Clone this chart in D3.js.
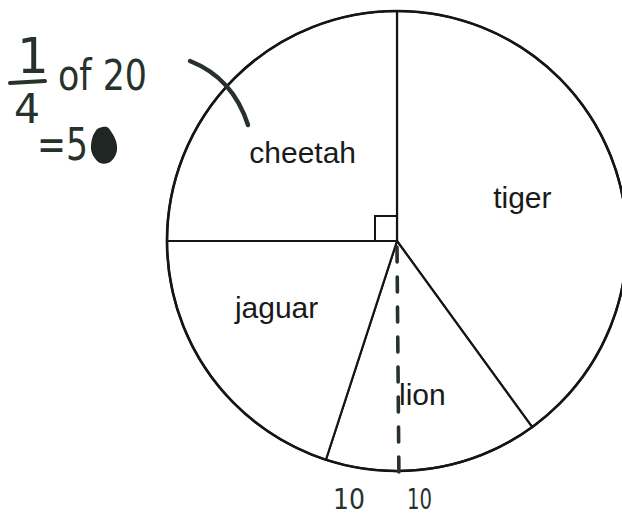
<!DOCTYPE html>
<html>
<head>
<meta charset="utf-8">
<script src="https://cdn.jsdelivr.net/npm/d3@7/dist/d3.min.js"></script>
<style>
  html, body { margin: 0; padding: 0; background: #ffffff; }
  svg { display: block; }
</style>
</head>
<body>
<script>
// Animals chosen by 20 pupils
const categories = ["tiger", "lion", "jaguar", "cheetah"];
const counts = [8, 3, 4, 5];
const total = 20;
const scaleMarks = ["10", "10"];

const width = 622, height = 517;
const cx = 397, cy = 241, R = 230;

const svg = d3.select("body").append("svg")
  .attr("width", width).attr("height", height);

const ink = "#151515";
const pen = "#27322d";

const data = categories.map((c, i) => ({ name: c, value: counts[i] }));

const pie = d3.pie().value(d => d.value).sort(null);
const arcs = pie(data);

const arc = d3.arc().innerRadius(0).outerRadius(R);
const labelArc = d3.arc().innerRadius(R * 0.58).outerRadius(R * 0.58);

const g = svg.append("g").attr("transform", `translate(${cx},${cy})`);

// slices
g.selectAll("path.slice")
  .data(arcs)
  .join("path")
  .attr("class", "slice")
  .attr("d", arc)
  .attr("fill", "#ffffff")
  .attr("stroke", ink)
  .attr("stroke-width", 2.2)
  .attr("stroke-linejoin", "round");

// heavier outer rim
g.append("circle")
  .attr("r", R)
  .attr("fill", "none")
  .attr("stroke", ink)
  .attr("stroke-width", 2.6);

// right-angle marker on the cheetah quarter
g.append("rect")
  .attr("x", -22).attr("y", -25)
  .attr("width", 22).attr("height", 25)
  .attr("fill", "none")
  .attr("stroke", ink)
  .attr("stroke-width", 2);

// pencil working: dashed halving line through the lion slice
svg.append("line")
  .attr("x1", cx).attr("y1", cy + 6)
  .attr("x2", cx + 2).attr("y2", cy + 244)
  .attr("stroke", pen)
  .attr("stroke-width", 3.6)
  .attr("stroke-linecap", "round")
  .attr("stroke-dasharray", "15,15");

// slice labels, nudged inside each sector
const nudge = { tiger: [-1.5, -2], cheetah: [0, 6], jaguar: [-12.5, -12], lion: [4.5, 22] };
g.selectAll("text.label")
  .data(arcs)
  .join("text")
  .attr("class", "label")
  .attr("x", d => labelArc.centroid(d)[0] + nudge[d.data.name][0])
  .attr("y", d => labelArc.centroid(d)[1] + 10.5 + nudge[d.data.name][1])
  .attr("text-anchor", "middle")
  .attr("font-family", "'Liberation Sans', Arial, Helvetica, sans-serif")
  .attr("font-size", 30)
  .attr("fill", "#1a1a1a")
  .text(d => d.data.name);

// tick arc pointing at the cheetah quarter
svg.append("path")
  .attr("d", "M190,61 Q233,78 248,125")
  .attr("fill", "none")
  .attr("stroke", pen)
  .attr("stroke-width", 4.5)
  .attr("stroke-linecap", "round");

const hand = "'DejaVu Sans', sans-serif";

// 1/4 of 20 = 5
svg.append("text")
  .attr("x", 33).attr("y", 73)
  .attr("text-anchor", "middle")
  .attr("font-family", hand).attr("font-size", 50)
  .attr("fill", pen)
  .text("1");

svg.append("path")
  .attr("d", "M10,83 L45,81")
  .attr("stroke", pen).attr("stroke-width", 4)
  .attr("stroke-linecap", "round");

svg.append("text")
  .attr("x", 27).attr("y", 123)
  .attr("text-anchor", "middle")
  .attr("font-family", hand).attr("font-size", 41)
  .attr("fill", pen)
  .text("4");

svg.append("text")
  .attr("x", 58).attr("y", 90)
  .attr("font-family", hand).attr("font-size", 42)
  .attr("textLength", 89).attr("lengthAdjust", "spacingAndGlyphs")
  .attr("fill", pen)
  .text("of " + total);

svg.append("text")
  .attr("x", 37).attr("y", 160)
  .attr("font-family", hand).attr("font-size", 45)
  .attr("textLength", 51).attr("lengthAdjust", "spacingAndGlyphs")
  .attr("fill", pen)
  .text("=" + total / 4);

// scribbled-out mark after the 5
const blob = [[99,128],[107,127],[112,133],[116,141],[117,150],[114,158],[108,163],[100,163],[94,157],[91,149],[92,139],[95,132]];
svg.append("path")
  .attr("d", d3.line().curve(d3.curveCardinalClosed)(blob))
  .attr("fill", "#1f2623");

// 10 | 10 under the dashed line
svg.selectAll("text.mark")
  .data(scaleMarks)
  .join("text")
  .attr("class", "mark")
  .attr("x", (d, i) => i === 0 ? 333 : 407)
  .attr("y", 509)
  .attr("font-family", hand).attr("font-size", 29)
  .attr("textLength", (d, i) => i === 0 ? 32 : 25)
  .attr("lengthAdjust", "spacingAndGlyphs")
  .attr("fill", pen)
  .text(d => d);
</script>
</body>
</html>
